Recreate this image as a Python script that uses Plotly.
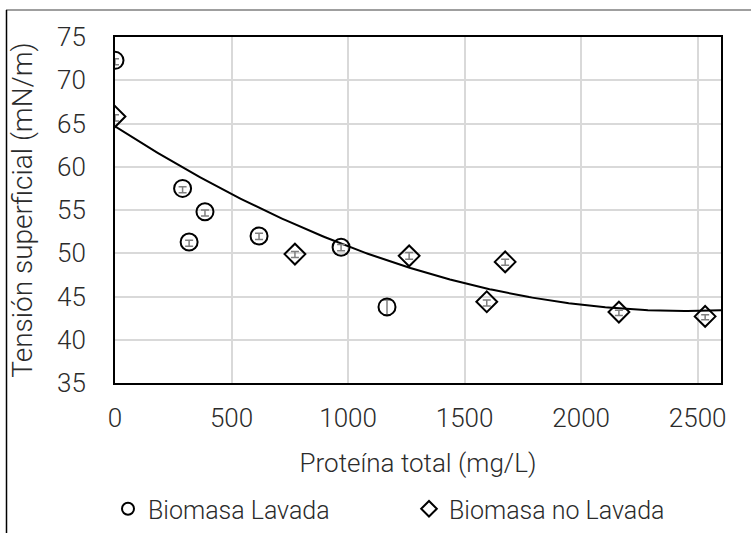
import numpy as np
import plotly.graph_objects as go

# Biomasa lavada
prot_lavada = [0, 290, 318, 386, 618, 970, 1167]
tension_lavada = [72.3, 57.5, 51.3, 54.8, 52.0, 50.7, 43.8]
err_lavada_plus = [0.2, 0.2, 0.2, 0.2, 0.3, 0.3, 0.8]
err_lavada_minus = [0.5, 0.5, 0.5, 0.5, 0.4, 0.4, 0.9]

# Biomasa no lavada
prot_no_lavada = [0, 772, 1262, 1595, 1674, 2162, 2532]
tension_no_lavada = [65.8, 49.9, 49.7, 44.4, 49.0, 43.2, 42.7]
err_no_lavada_plus = [0.2, 0.3, 0.4, 0.2, 0.3, 0.2, 0.2]
err_no_lavada_minus = [0.5, 0.4, 0.4, 0.5, 0.4, 0.4, 0.4]

x_ticks = [0, 500, 1000, 1500, 2000, 2500]
y_ticks = [35, 40, 45, 50, 55, 60, 65, 70, 75]

FONT = "Roboto, Lato, sans-serif"
TXT = "#2b2b2b"

# quadratic trend over the unwashed-biomass series
coef = np.polyfit(prot_no_lavada, tension_no_lavada, 2)
xt = np.linspace(0, 2600, 200)
yt = np.polyval(coef, xt)

fig = go.Figure()

fig.add_trace(go.Scatter(
    x=xt, y=yt, mode="lines", line=dict(color="black", width=2),
    showlegend=False, hoverinfo="skip"))

fig.add_trace(go.Scatter(
    x=prot_lavada, y=tension_lavada, mode="markers", name="Biomasa Lavada",
    marker=dict(symbol="circle-open", size=17, color="black", line=dict(width=2)),
    error_y=dict(type="data", array=err_lavada_plus, arrayminus=err_lavada_minus,
                 color="#7f7f7f", thickness=1.5, width=4)))

fig.add_trace(go.Scatter(
    x=prot_no_lavada, y=tension_no_lavada, mode="markers", name="Biomasa no Lavada",
    marker=dict(symbol="diamond-open", size=16, color="black", line=dict(width=2)),
    error_y=dict(type="data", array=err_no_lavada_plus, arrayminus=err_no_lavada_minus,
                 color="#7f7f7f", thickness=1.5, width=4)))

L, R, T, B = 115, 30, 37, 150
W, H = 751, 533
pw, ph = W - L - R, H - T - B

def px_x(p):
    return (p - L) / pw

def px_y(p):
    return (H - B - p) / ph

# outer chart frame (top and left edges)
fig.add_shape(type="line", xref="paper", yref="paper",
              x0=px_x(6), x1=px_x(760), y0=px_y(10), y1=px_y(10),
              line=dict(color="#7f7f7f", width=1.5))
fig.add_shape(type="line", xref="paper", yref="paper",
              x0=px_x(6.5), x1=px_x(6.5), y0=px_y(10), y1=px_y(540),
              line=dict(color="black", width=1.5))

fig.update_layout(
    width=W, height=H,
    margin=dict(l=L, r=R, t=T, b=B, autoexpand=False),
    paper_bgcolor="white", plot_bgcolor="white",
    font=dict(family=FONT, color=TXT, size=25, weight=300),
    legend=dict(orientation="h", x=px_x(108), y=px_y(509), yanchor="middle",
                xanchor="left", font=dict(size=25, family=FONT, color=TXT, weight=300),
                itemsizing="constant",
                entrywidth=256, entrywidthmode="pixels", bgcolor="rgba(0,0,0,0)"),
    xaxis=dict(
        range=[0, 2600], tickvals=x_ticks, ticktext=[str(v) for v in x_ticks],
        showgrid=True, gridcolor="#d9d9d9", gridwidth=1.5,
        showline=True, linecolor="black", linewidth=2, mirror=True,
        zeroline=False, ticks="", ticklabelstandoff=11,
        tickfont=dict(size=26, weight=300),
        title=dict(text="Proteína total (mg/L)", font=dict(size=26, weight=300), standoff=22)),
    yaxis=dict(
        range=[35, 75], tickvals=y_ticks, ticktext=[str(v) for v in y_ticks],
        showgrid=True, gridcolor="#d9d9d9", gridwidth=1.5,
        showline=True, linecolor="black", linewidth=2, mirror=True,
        zeroline=False, ticks="", ticklabelstandoff=22,
        tickfont=dict(size=26, weight=300),
        title=dict(text="Tensión superficial (mN/m)", font=dict(size=28, weight=300), standoff=16)),
)

fig.write_html("out.html")
